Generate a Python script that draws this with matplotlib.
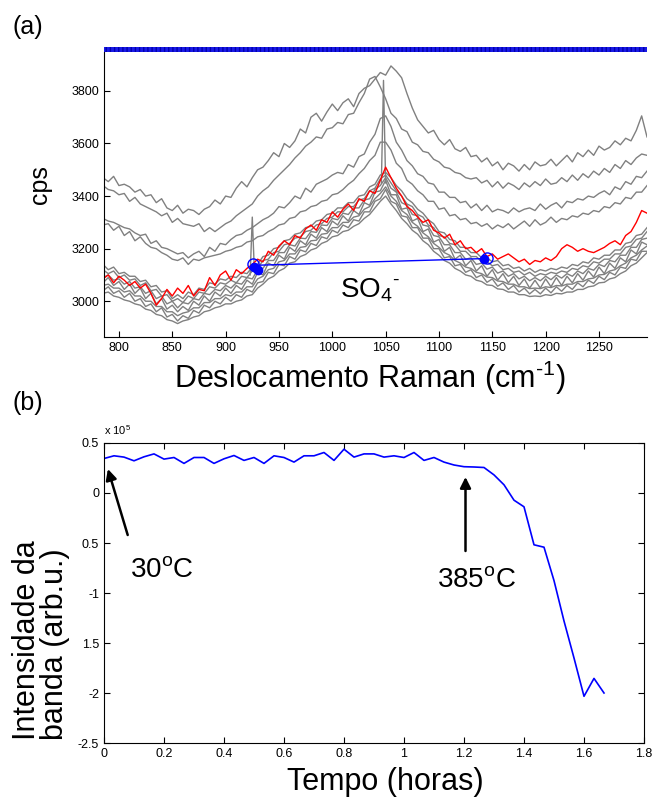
import numpy as np
import matplotlib
matplotlib.use('Agg')
import matplotlib.pyplot as plt
from matplotlib.patches import Rectangle

plt.rcParams['font.family'] = ['Liberation Sans', 'DejaVu Sans']
plt.rcParams['mathtext.fontset'] = 'custom'
plt.rcParams['mathtext.rm'] = 'Liberation Sans'

# (a) Raman spectra, read every 5 cm-1 (785 ... 1295)
wavenumber = np.arange(785, 1300, 5)

red_spectrum = [
    3085, 3100, 3070, 3095, 3080, 3060, 3075, 3050, 3065, 3030,
    2985, 3010, 3045, 3020, 3050, 3030, 3060, 3020, 3045, 3040,
    3090, 3060, 3100, 3115, 3080, 3120, 3105, 3125, 3140, 3160,
    3150, 3190, 3175, 3210, 3230, 3215, 3250, 3240, 3275, 3290,
    3270, 3310, 3300, 3340, 3320, 3350, 3370, 3345, 3390, 3380,
    3420, 3410, 3460, 3510, 3470, 3430, 3400, 3360, 3345, 3320,
    3300, 3310, 3270, 3260, 3240, 3255, 3215, 3230, 3200, 3205,
    3185, 3200, 3170, 3180, 3160, 3170, 3180, 3165, 3150, 3160,
    3140, 3155, 3150, 3165, 3155, 3170, 3200, 3215, 3205, 3190,
    3200, 3190, 3185, 3195, 3205, 3220, 3230, 3215, 3250, 3265,
    3300, 3345, 3335]

grey_upper = [
    [3470, 3455, 3475, 3440, 3445, 3435, 3415, 3425, 3400, 3405,
     3375, 3390, 3355, 3345, 3365, 3335, 3350, 3345, 3330, 3350,
     3360, 3385, 3370, 3400, 3395, 3430, 3455, 3435, 3470, 3500,
     3510, 3535, 3565, 3550, 3600, 3585, 3610, 3655, 3640, 3700,
     3715, 3685, 3720, 3750, 3725, 3755, 3770, 3740, 3790, 3810,
     3820, 3845, 3870, 3860, 3895, 3875, 3850, 3790, 3735, 3690,
     3665, 3640, 3650, 3615, 3595, 3615, 3580, 3570, 3585, 3550,
     3555, 3530, 3545, 3515, 3530, 3500, 3525, 3515, 3495, 3520,
     3500, 3530, 3515, 3520, 3540, 3515, 3535, 3555, 3530, 3565,
     3550, 3575, 3555, 3590, 3575, 3585, 3610, 3595, 3620, 3610,
     3650, 3705, 3625],
    [3440, 3425, 3420, 3405, 3410, 3380, 3395, 3370, 3360, 3350,
     3340, 3325, 3335, 3300, 3315, 3295, 3290, 3285, 3295, 3265,
     3280, 3265, 3280, 3295, 3305, 3325, 3340, 3355, 3370, 3400,
     3420, 3435, 3460, 3480, 3500, 3520, 3545, 3565, 3590, 3605,
     3625, 3620, 3655, 3660, 3680, 3675, 3710, 3715, 3755, 3790,
     3845, 3855, 3815, 3770, 3715, 3695, 3655, 3645, 3605, 3595,
     3570, 3565, 3540, 3530, 3510, 3505, 3490, 3485, 3470, 3465,
     3470, 3450, 3460, 3435, 3455, 3430, 3450, 3440, 3425, 3450,
     3435, 3455, 3440, 3465, 3445, 3450, 3470, 3455, 3480, 3460,
     3485, 3470, 3495, 3480, 3505, 3490, 3520, 3505, 3535, 3520,
     3545, 3560, 3555],
    [3315, 3305, 3300, 3290, 3280, 3275, 3260, 3250, 3255, 3220,
     3230, 3205, 3200, 3190, 3180, 3185, 3165, 3180, 3190, 3170,
     3205, 3190, 3220, 3215, 3235, 3250, 3255, 3270, 3280, 3295,
     3310, 3320, 3335, 3360, 3355, 3375, 3400, 3390, 3430, 3415,
     3445, 3455, 3465, 3480, 3490, 3485, 3520, 3510, 3550, 3560,
     3605, 3635, 3695, 3705, 3665, 3605, 3575, 3535, 3515, 3485,
     3475, 3450, 3445, 3415, 3415, 3395, 3395, 3375, 3380, 3355,
     3370, 3345, 3365, 3340, 3350, 3345, 3335, 3355, 3340, 3350,
     3355, 3345, 3370, 3350, 3365, 3375, 3355, 3380, 3375, 3390,
     3385, 3400, 3395, 3410, 3420, 3405, 3435, 3425, 3455, 3445,
     3475, 3470, 3495],
    [3290, 3295, 3270, 3285, 3250, 3265, 3230, 3245, 3220, 3205,
     3200, 3185, 3175, 3160, 3155, 3165, 3140, 3160, 3155, 3165,
     3170, 3175, 3180, 3190, 3195, 3205, 3210, 3225, 3230, 3245,
     3250, 3265, 3275, 3290, 3295, 3315, 3320, 3340, 3345, 3360,
     3365, 3380, 3385, 3405, 3410, 3425, 3445, 3460, 3485, 3505,
     3535, 3555, 3605, 3605, 3575, 3525, 3505, 3460, 3445, 3420,
     3405, 3380, 3380, 3350, 3355, 3325, 3330, 3310, 3315, 3295,
     3300, 3285, 3295, 3275, 3290, 3280, 3295, 3275, 3290, 3305,
     3285, 3310, 3290, 3300, 3320, 3300, 3315, 3310, 3325, 3320,
     3335, 3330, 3345, 3340, 3360, 3355, 3375, 3370, 3395, 3390,
     3415, 3415, 3440],
]

grey_lower = [
    [3120, 3105, 3115, 3090, 3100, 3080, 3085, 3060, 3070, 3040,
     3045, 3020, 3025, 3000, 3010, 2995, 3020, 3010, 3035, 3030,
     3055, 3050, 3070, 3065, 3080, 3070, 3095, 3090, 3115, 3125,
     3155, 3160, 3185, 3190, 3215, 3220, 3240, 3245, 3265, 3270,
     3290, 3295, 3315, 3320, 3340, 3340, 3360, 3360, 3385, 3390,
     3420, 3430, 3465, 3480, 3450, 3420, 3400, 3370, 3360, 3330,
     3320, 3290, 3280, 3250, 3245, 3220, 3215, 3190, 3190, 3170,
     3170, 3150, 3150, 3135, 3140, 3120, 3125, 3110, 3115, 3100,
     3110, 3095, 3105, 3100, 3110, 3105, 3115, 3110, 3125, 3120,
     3135, 3130, 3150, 3145, 3160, 3160, 3180, 3180, 3205, 3210,
     3235, 3240, 3265],
    [3090, 3100, 3080, 3085, 3065, 3075, 3050, 3055, 3030, 3040,
     3010, 3020, 2990, 3000, 2975, 2995, 2990, 3010, 3005, 3030,
     3025, 3045, 3040, 3060, 3050, 3070, 3065, 3090, 3085, 3120,
     3125, 3155, 3155, 3185, 3185, 3215, 3210, 3240, 3238, 3265,
     3262, 3290, 3288, 3315, 3310, 3335, 3330, 3355, 3355, 3385,
     3390, 3425, 3440, 3470, 3430, 3415, 3375, 3365, 3330, 3325,
     3290, 3285, 3250, 3245, 3215, 3215, 3185, 3185, 3160, 3165,
     3140, 3145, 3122, 3130, 3107, 3115, 3095, 3105, 3085, 3095,
     3078, 3090, 3078, 3095, 3082, 3100, 3088, 3105, 3095, 3115,
     3105, 3125, 3118, 3140, 3132, 3155, 3150, 3175, 3175, 3205,
     3205, 3235, 3240],
    [3070, 3090, 3060, 3075, 3045, 3065, 3030, 3050, 3010, 3030,
     2990, 3010, 2970, 2985, 2960, 2980, 2965, 3000, 2985, 3020,
     3000, 3035, 3020, 3050, 3030, 3060, 3045, 3080, 3065, 3110,
     3100, 3145, 3135, 3175, 3160, 3205, 3190, 3230, 3215, 3255,
     3240, 3280, 3265, 3305, 3290, 3325, 3305, 3345, 3330, 3375,
     3365, 3415, 3420, 3460, 3405, 3405, 3350, 3355, 3305, 3315,
     3265, 3275, 3225, 3235, 3190, 3205, 3160, 3175, 3135, 3155,
     3115, 3135, 3095, 3120, 3080, 3105, 3070, 3095, 3060, 3085,
     3050, 3080, 3050, 3085, 3055, 3090, 3060, 3095, 3070, 3105,
     3080, 3115, 3092, 3130, 3105, 3145, 3125, 3165, 3150, 3195,
     3180, 3225, 3215],
    [3060, 3065, 3050, 3050, 3035, 3040, 3020, 3020, 3000, 3000,
     2980, 2980, 2960, 2960, 2945, 2955, 2960, 2975, 2975, 2995,
     2995, 3010, 3010, 3025, 3020, 3035, 3035, 3055, 3055, 3085,
     3095, 3120, 3125, 3150, 3155, 3180, 3180, 3205, 3208, 3230,
     3232, 3255, 3258, 3280, 3280, 3300, 3300, 3320, 3325, 3350,
     3360, 3390, 3410, 3435, 3400, 3380, 3345, 3330, 3300, 3285,
     3260, 3245, 3220, 3205, 3185, 3175, 3155, 3145, 3130, 3125,
     3110, 3105, 3092, 3090, 3077, 3075, 3065, 3065, 3055, 3055,
     3048, 3050, 3048, 3055, 3052, 3060, 3058, 3065, 3065, 3075,
     3075, 3085, 3088, 3100, 3102, 3115, 3120, 3135, 3145, 3165,
     3175, 3195, 3210],
    [3040, 3055, 3030, 3040, 3015, 3030, 3000, 3010, 2980, 2990,
     2960, 2975, 2940, 2950, 2925, 2945, 2935, 2965, 2955, 2985,
     2975, 3000, 2990, 3015, 3000, 3025, 3015, 3045, 3035, 3070,
     3075, 3110, 3105, 3140, 3135, 3170, 3160, 3195, 3188, 3220,
     3212, 3245, 3238, 3270, 3260, 3290, 3280, 3310, 3305, 3340,
     3340, 3380, 3390, 3425, 3380, 3370, 3325, 3320, 3280, 3280,
     3240, 3240, 3200, 3200, 3165, 3170, 3135, 3140, 3110, 3120,
     3090, 3100, 3072, 3085, 3057, 3070, 3045, 3060, 3035, 3050,
     3028, 3045, 3028, 3050, 3032, 3055, 3038, 3060, 3045, 3070,
     3055, 3080, 3068, 3095, 3082, 3110, 3100, 3130, 3125, 3160,
     3155, 3190, 3190],
    [3140, 3120, 3130, 3105, 3110, 3095, 3095, 3075, 3080, 3055,
     3060, 3035, 3040, 3010, 3025, 3010, 3035, 3025, 3050, 3045,
     3070, 3065, 3085, 3080, 3095, 3090, 3110, 3105, 3130, 3140,
     3170, 3175, 3200, 3205, 3230, 3235, 3255, 3260, 3280, 3285,
     3305, 3310, 3330, 3335, 3355, 3355, 3375, 3375, 3400, 3405,
     3435, 3445, 3480, 3490, 3470, 3440, 3420, 3390, 3375, 3350,
     3335, 3310, 3295, 3265, 3260, 3235, 3230, 3205, 3205, 3185,
     3185, 3165, 3165, 3150, 3155, 3135, 3140, 3125, 3130, 3115,
     3125, 3110, 3120, 3115, 3125, 3120, 3130, 3125, 3140, 3135,
     3150, 3145, 3165, 3160, 3175, 3175, 3195, 3195, 3220, 3225,
     3250, 3255, 3280],
    [3030, 3035, 3020, 3015, 3005, 3000, 2990, 2985, 2970, 2965,
     2950, 2945, 2930, 2925, 2915, 2925, 2930, 2940, 2945, 2960,
     2965, 2975, 2980, 2990, 2990, 3000, 3005, 3020, 3025, 3050,
     3065, 3085, 3095, 3115, 3125, 3145, 3150, 3170, 3178, 3195,
     3202, 3220, 3228, 3245, 3250, 3265, 3270, 3285, 3295, 3315,
     3330, 3355, 3380, 3400, 3370, 3345, 3315, 3295, 3270, 3255,
     3230, 3215, 3190, 3175, 3155, 3145, 3125, 3115, 3100, 3095,
     3080, 3075, 3062, 3060, 3047, 3045, 3035, 3035, 3025, 3025,
     3018, 3020, 3018, 3025, 3022, 3030, 3028, 3035, 3035, 3045,
     3045, 3055, 3058, 3070, 3072, 3085, 3090, 3105, 3115, 3135,
     3145, 3165, 3185],
]

spike_x = [[923, 925, 927], [1046, 1048, 1050]]
spike_y = [[3100, 3320, 3110], [3450, 3840, 3450]]

# band limits picked on the spectrum (blue baseline)
band_x = [930, 1140]
band_y = [3137, 3162]
band_open_x = [926, 1145]
band_open_y = [3141, 3163]
band_fill_x = [927, 930, 1142]
band_fill_y = [3132, 3118, 3160]

# (b) band intensity vs time (x 1e5)
time_h = np.arange(51) / 30
intensity = [0.345, 0.372, 0.359, 0.322, 0.362, 0.391, 0.339, 0.355, 0.296, 0.355, 0.355,
             0.296, 0.342, 0.375, 0.326, 0.355, 0.296, 0.372, 0.355, 0.309, 0.372, 0.372,
             0.405, 0.326, 0.438, 0.359, 0.391, 0.391, 0.359, 0.372, 0.355, 0.405, 0.326,
             0.355, 0.309, 0.280, 0.263, 0.260, 0.255, 0.181, 0.082, -0.072, -0.138, -0.518,
             -0.542, -0.876, -1.28, -1.65, -2.033, -1.854, -2.0]

b_yticks = [0.5, 0, -0.5, -1, -1.5, -2, -2.5]
b_yticklabels = ['0.5', '0', '0.5', '-1', '1.5', '-2', '-2.5']
b_xticks = [0, 0.2, 0.4, 0.6, 0.8, 1, 1.2, 1.4, 1.6, 1.8]
b_xticklabels = ['0', '0.2', '0.4', '0.6', '0.8', '1', '1.2', '1.4', '1.6', '1.8']

W, H = 655, 802


def px_box(left, top, right, bottom):
    return [left / W, 1 - bottom / H, (right - left) / W, (bottom - top) / H]


def plot_spectra(ax):
    for y in grey_upper + grey_lower:
        ax.plot(wavenumber, y, color='#808080', lw=1)
    for sx, sy in zip(spike_x, spike_y):
        ax.plot(sx, sy, color='#808080', lw=1)
    ax.plot(wavenumber, red_spectrum, color='red', lw=1)
    ax.plot(band_x, band_y, color='blue', lw=1)
    ax.plot(band_fill_x, band_fill_y, 'o', color='blue', ms=6)
    ax.plot(band_open_x, band_open_y, 'o', mfc='none', mec='blue', ms=8, mew=1)

    ax.set_xlim(786, 1295)
    ax.set_ylim(2864, 3948)
    ax.set_xticks(np.arange(800, 1300, 50))
    ax.set_yticks(np.arange(3000, 3900, 200))
    ax.spines['top'].set_visible(False)
    ax.spines['right'].set_visible(False)
    ax.tick_params(direction='in', length=4, labelsize=9, width=0.8)
    ax.text(1007, 3015, r'SO$_\mathregular{4}$$^\text{-}$', fontsize=20, va='baseline')
    # blue strip along the top of the frame
    ax.add_patch(Rectangle((0, 1.0), 1.0, 0.019, transform=ax.transAxes, clip_on=False,
                           facecolor='#1a1ae6', edgecolor='#0000b0', hatch='||||', lw=0))


def plot_intensity(ax):
    ax.plot(time_h, intensity, color='blue', lw=1.2)
    ax.set_xlim(0, 1.8)
    ax.set_ylim(-2.5, 0.5)
    ax.set_xticks(b_xticks)
    ax.set_xticklabels(b_xticklabels)
    ax.set_yticks(b_yticks)
    ax.set_yticklabels(b_yticklabels)
    ax.tick_params(direction='in', length=4, labelsize=9, top=True, right=True, width=0.8)
    ax.text(0, 1.02, r'x 10$^\mathregular{5}$', transform=ax.transAxes, fontsize=8, va='bottom')

    arrow = dict(arrowstyle='-|>', lw=1.8, color='black', mutation_scale=16, shrinkA=0, shrinkB=0)
    ax.annotate('', xy=(0.013, 0.24), xytext=(0.079, -0.42), arrowprops=arrow)
    ax.annotate('', xy=(1.205, 0.16), xytext=(1.205, -0.58), arrowprops=arrow)
    ax.text(0.088, -0.85, r'30$^\mathregular{o}$C', fontsize=20, va='baseline')
    ax.text(1.11, -0.95, r'385$^\mathregular{o}$C', fontsize=20, va='baseline')


def main():
    fig = plt.figure(figsize=(W / 100, H / 100), dpi=100)
    ax_a = fig.add_axes(px_box(104, 52, 647, 337))
    ax_b = fig.add_axes(px_box(104, 443, 644, 743))
    plot_spectra(ax_a)
    plot_intensity(ax_b)

    fig.text(12 / W, 1 - 27 / H, '(a)', fontsize=18, va='center')
    fig.text(12 / W, 1 - 403 / H, '(b)', fontsize=18, va='center')
    fig.text(40 / W, 1 - 185 / H, 'cps', fontsize=18, rotation=90, ha='center', va='center')
    fig.text(370 / W, 1 - 378 / H, r'Deslocamento Raman (cm$^\text{-1}$)', fontsize=22,
             ha='center', va='center')
    fig.text(385 / W, 1 - 782 / H, 'Tempo (horas)', fontsize=22, ha='center', va='center')
    fig.text(41 / W, 1 - 740 / H, 'Intensidade da\nbanda (arb.u.)', fontsize=22, rotation=90,
             ha='center', va='bottom', multialignment='left', linespacing=0.95)

    fig.savefig('out.png', dpi=100)


if __name__ == '__main__':
    main()
